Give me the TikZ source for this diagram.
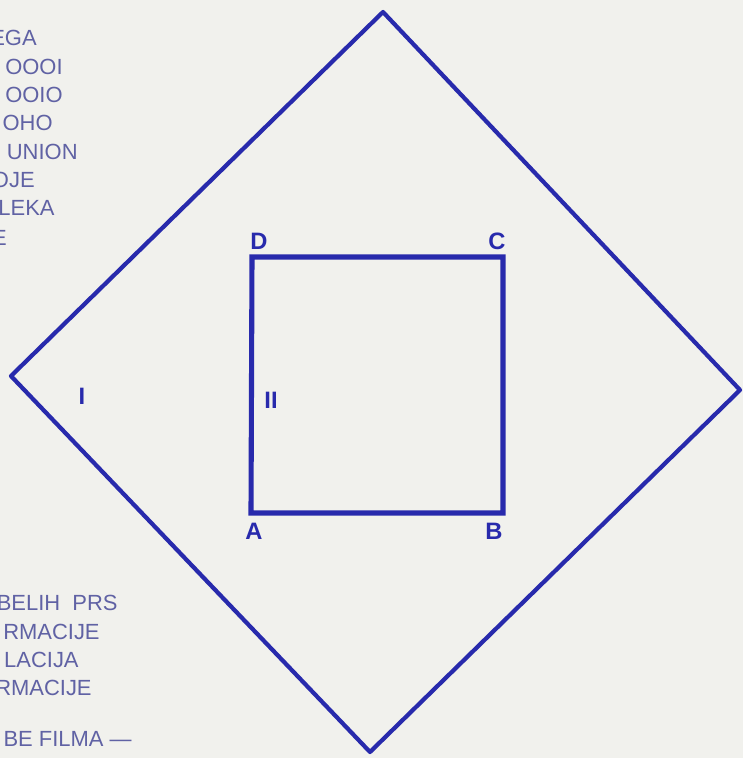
\documentclass[tikz,border=0pt]{standalone}
\usepackage{fontspec}
\setmainfont{Liberation Sans}
\usepackage{xcolor}
\usetikzlibrary{positioning}
\definecolor{inkblue}{RGB}{40,42,172}
\definecolor{pageink}{RGB}{96,98,164}
\definecolor{paper}{RGB}{241,241,237}

\begin{document}
\begin{tikzpicture}[x=0.02cm,y=-0.02cm,
    pagetext/.style={anchor=base east,inner sep=0pt,text=pageink,font=\fontsize{12.5}{14}\selectfont},
    corner/.style={text=inkblue,inner sep=0pt,font=\fontsize{13.5}{15}\selectfont\bfseries}]
      % Page background
      \fill[paper] (0,0) rectangle (743,758);
      \useasboundingbox (0,0) rectangle (743,758);
      \clip (0,0) rectangle (743,758);
      % Text of the page, cut at the left edge
      \node[pagetext] (t1) at (37,45.5) {EGA};
      \node[pagetext] (t2) at (63,74.5) {OOOI};
      \node[pagetext] (t3) at (63,102.5) {OOIO};
      \node[pagetext] (t4) at (53,130.5) {OHO};
      \node[pagetext] (t5) at (78,159.5) {UNION};
      \node[pagetext] (t6) at (35,187.5) {OJE};
      \node[pagetext] (t7) at (55,215.5) {LEKA};
      \node[pagetext] (t8) at (7,245.5) {E};
      \node[pagetext] (b1) at (118,610.5) {BELIH\ \ PRS};
      \node[pagetext] (b2) at (100,639.5) {RMACIJE};
      \node[pagetext] (b3) at (79,667.5) {LACIJA};
      \node[pagetext] (b4) at (92,695.5) {RMACIJE};
      \node[pagetext] (b5) at (132,746.5) {BE FILMA ---};
      % Define coordinates
      \coordinate (N) at (383,12);
      \coordinate (Ea) at (740,390);
      \coordinate (S) at (370,752);
      \coordinate (W) at (11,376);
      \coordinate (A) at (251,513);
      \coordinate (B) at (503,513);
      \coordinate (C) at (503,257);
      \coordinate (D) at (252,257);
      % Outer square (region I)
      \draw[inkblue,line width=2.4pt,line join=round] (N) -- (Ea) -- (S) -- (W) -- cycle;
      % Inner square (region II)
      \draw[inkblue,line width=2.9pt,line join=miter] (A) -- (B) -- (C) -- (D) -- cycle;
      % Corner labels
      \node[corner] (lA) at (254,531) {A};
      \node[corner] (lB) at (494,531) {B};
      \node[corner] (lC) at (497,241) {C};
      \node[corner] (lD) at (259,241) {D};
      % Region labels
      \node[corner] (rI) at (82,396) {I};
      \node[corner] (rII) at (271,400) {II};
    \end{tikzpicture}
\end{document}
